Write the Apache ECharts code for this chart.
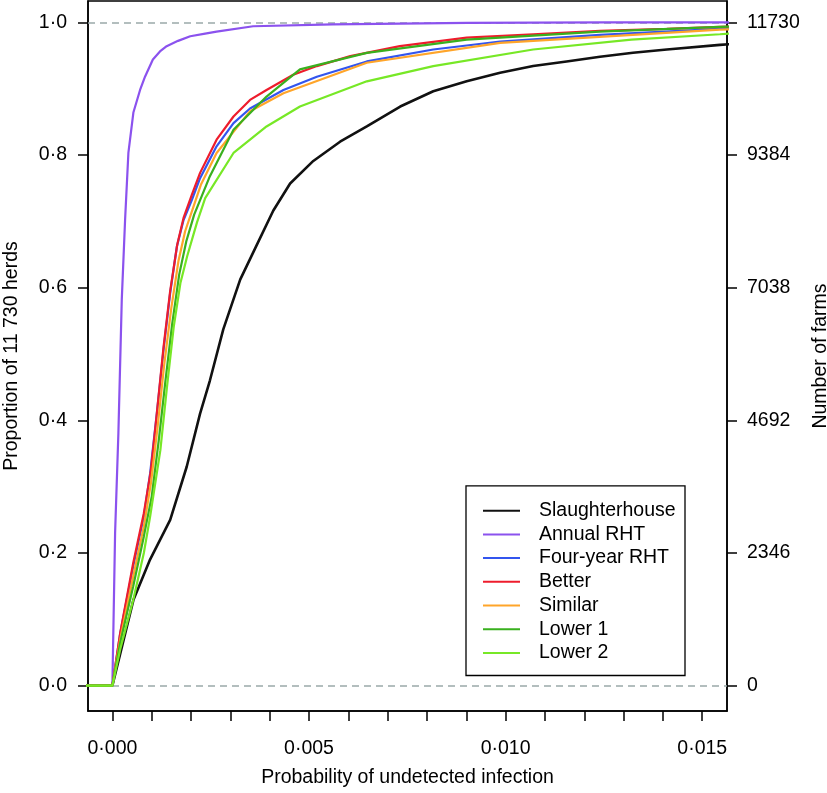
<!DOCTYPE html>
<html>
<head>
<meta charset="utf-8">
<script src="https://cdn.jsdelivr.net/npm/echarts@6/dist/echarts.min.js"></script>
<style>html,body{margin:0;padding:0;background:#fff;}#chart{width:827px;height:793px;}</style>
</head>
<body>
<div id="chart"></div>
<script>
// ---- data ----
const seriesNames = ['Slaughterhouse', 'Annual RHT', 'Four-year RHT', 'Better', 'Similar', 'Lower 1', 'Lower 2'];
const seriesColors = ['#111111', '#8b52ee', '#3355ee', '#ee1c2c', '#ffa52a', '#39b01e', '#77e826'];

const slaughterX = [-0.001, 0, 0.000534, 0.000958, 0.00147, 0.00189, 0.00223, 0.00248, 0.00282, 0.00325, 0.00367, 0.00409, 0.00452, 0.00511, 0.00579, 0.00647, 0.00732, 0.00816, 0.00901, 0.00986, 0.0107, 0.01155, 0.0124, 0.01324, 0.0141, 0.01545, 0.016];
const slaughterY = [0, 0, 0.129, 0.19, 0.25, 0.33, 0.41, 0.46, 0.537, 0.612, 0.664, 0.716, 0.757, 0.791, 0.82, 0.843, 0.873, 0.896, 0.911, 0.924, 0.934, 0.941, 0.948, 0.954, 0.959, 0.966, 0.968];

const annualX = [-0.001, 0, 0.000069, 0.000153, 0.000239, 0.000323, 0.000407, 0.000534, 0.000704, 0.00083, 0.00103, 0.00121, 0.00138, 0.00167, 0.00198, 0.00236, 0.00265, 0.00358, 0.00561, 0.00902, 0.0125, 0.016];
const annualY = [0, 0, 0.23, 0.381, 0.582, 0.702, 0.803, 0.864, 0.898, 0.918, 0.944, 0.956, 0.964, 0.972, 0.979, 0.983, 0.986, 0.994, 0.997, 0.999, 1.0, 1.0];

const fourYearX = [-0.001, 0, 0.0002, 0.00053, 0.0008, 0.00096, 0.00113, 0.0013, 0.00147, 0.00164, 0.00181, 0.00202, 0.00223, 0.00265, 0.00308, 0.0035, 0.00435, 0.0052, 0.00647, 0.00816, 0.00986, 0.0124, 0.01545, 0.016];
const fourYearY = [0, 0, 0.079, 0.18, 0.255, 0.32, 0.41, 0.506, 0.592, 0.662, 0.702, 0.732, 0.765, 0.813, 0.848, 0.87, 0.898, 0.918, 0.941, 0.959, 0.971, 0.981, 0.99, 0.991];

const betterX = [-0.001, 0, 0.0002, 0.00053, 0.0008, 0.00098, 0.00113, 0.0013, 0.00147, 0.00165, 0.00181, 0.00202, 0.00223, 0.00265, 0.00308, 0.0035, 0.00392, 0.0046, 0.0052, 0.00605, 0.00731, 0.00901, 0.0107, 0.0124, 0.0141, 0.01545, 0.016];
const betterY = [0, 0, 0.08, 0.185, 0.26, 0.325, 0.41, 0.51, 0.595, 0.665, 0.705, 0.74, 0.773, 0.823, 0.858, 0.883, 0.898, 0.921, 0.934, 0.949, 0.964, 0.977, 0.982, 0.987, 0.99, 0.993, 0.994];

const similarX = [-0.001, 0, 0.0002, 0.00053, 0.0008, 0.00098, 0.00115, 0.00132, 0.0015, 0.00168, 0.00185, 0.00205, 0.00225, 0.00265, 0.0035, 0.00435, 0.00647, 0.00986, 0.01545, 0.016];
const similarY = [0, 0, 0.07, 0.165, 0.24, 0.305, 0.39, 0.485, 0.57, 0.64, 0.685, 0.72, 0.755, 0.803, 0.866, 0.893, 0.939, 0.969, 0.989, 0.99];

const lower1X = [-0.001, 0, 0.0002, 0.00053, 0.0008, 0.001, 0.00118, 0.00135, 0.00152, 0.0017, 0.00188, 0.00208, 0.00248, 0.00308, 0.00392, 0.00477, 0.00647, 0.00901, 0.0124, 0.01545, 0.016];
const lower1Y = [0, 0, 0.065, 0.15, 0.225, 0.285, 0.37, 0.46, 0.545, 0.62, 0.67, 0.71, 0.768, 0.838, 0.888, 0.929, 0.954, 0.974, 0.986, 0.993, 0.994];

const lower2X = [-0.001, 0, 0.0002, 0.00053, 0.0008, 0.00096, 0.00122, 0.00139, 0.00156, 0.00173, 0.0019, 0.00215, 0.00236, 0.00308, 0.00392, 0.00477, 0.00647, 0.00816, 0.0107, 0.0132, 0.01545, 0.016];
const lower2Y = [0, 0, 0.055, 0.129, 0.2, 0.255, 0.355, 0.451, 0.541, 0.607, 0.647, 0.698, 0.735, 0.803, 0.843, 0.873, 0.911, 0.934, 0.959, 0.974, 0.982, 0.984];

const xTicks = [0, 0.001, 0.002, 0.003, 0.004, 0.005, 0.006, 0.007, 0.008, 0.009, 0.010, 0.011, 0.012, 0.013, 0.014, 0.015];
const xLabels = [0, 0.005, 0.010, 0.015];
const yTicks = [0, 0.2, 0.4, 0.6, 0.8, 1.0];
const farmLabels = ['0', '2346', '4692', '7038', '9384', '11730'];
const refLines = [0, 1];

// ---- chart ----
const allX = [slaughterX, annualX, fourYearX, betterX, similarX, lower1X, lower2X];
const allY = [slaughterY, annualY, fourYearY, betterY, similarY, lower1Y, lower2Y];
const FONT = 'Liberation Sans';
const FS = 19.5;
const dot = s => s.replace('.', '\u00B7');

const series = seriesNames.map((name, i) => {
  const s = {
    name: name,
    type: 'line',
    data: allX[i].map((x, k) => [x, allY[i][k]]),
    symbol: 'none',
    showSymbol: false,
    lineStyle: { color: seriesColors[i], width: i === 0 ? 2.6 : 2.2 },
    itemStyle: { color: seriesColors[i] },
    clip: true,
    z: 3 + i
  };
  if (i === 0) {
    s.markLine = {
      silent: true,
      symbol: 'none',
      label: { show: false },
      lineStyle: { type: [7, 5], color: '#9aa9a9', width: 1.5 },
      data: refLines.map(v => ({ yAxis: v })),
      z: 1
    };
  }
  return s;
});

const axisLineStyle = { color: '#000', width: 1.5 };
const chart = echarts.init(document.getElementById('chart'), null, { renderer: 'canvas' });
chart.setOption({
  animation: false,
  backgroundColor: '#fff',
  textStyle: { fontFamily: FONT, color: '#000' },
  grid: { left: 88, right: 100, top: 1, bottom: 82, containLabel: false, outerBoundsMode: 'none',
          show: true, borderColor: '#000', borderWidth: 1.5, backgroundColor: 'transparent' },
  xAxis: {
    type: 'value',
    min: -0.00062, max: 0.01563,
    name: 'Probability of undetected infection',
    nameLocation: 'middle', nameGap: 57,
    nameTextStyle: { fontFamily: FONT, fontSize: FS, color: '#000' },
    axisLine: { show: true, onZero: false, lineStyle: axisLineStyle },
    axisTick: { show: true, length: 10, customValues: xTicks, lineStyle: axisLineStyle },
    axisLabel: { customValues: xLabels, margin: 28, fontFamily: FONT, fontSize: FS, color: '#000', formatter: v => dot(v.toFixed(3)) },
    splitLine: { show: false }
  },
  yAxis: [{
    type: 'value',
    position: 'left',
    min: -0.0382, max: 1.0321,
    name: 'Proportion of 11 730 herds',
    nameLocation: 'middle', nameGap: 66, nameRotate: 90,
    nameTextStyle: { fontFamily: FONT, fontSize: FS, color: '#000' },
    axisLine: { show: true, onZero: false, lineStyle: axisLineStyle },
    axisTick: { show: true, length: 10, customValues: yTicks, lineStyle: axisLineStyle },
    axisLabel: { customValues: yTicks, margin: 21, fontFamily: FONT, fontSize: FS, color: '#000', formatter: v => dot(v.toFixed(1)) },
    splitLine: { show: false }
  }, {
    type: 'value',
    position: 'right',
    min: -0.0382, max: 1.0321,
    name: 'Number of farms',
    nameLocation: 'middle', nameGap: 75, nameRotate: 90,
    nameTextStyle: { fontFamily: FONT, fontSize: FS, color: '#000' },
    axisLine: { show: true, onZero: false, lineStyle: axisLineStyle },
    axisTick: { show: true, length: 10, customValues: yTicks, lineStyle: axisLineStyle },
    axisLabel: { customValues: yTicks, margin: 20, fontFamily: FONT, fontSize: FS, color: '#000',
      formatter: v => { const k = yTicks.findIndex(t => Math.abs(t - v) < 1e-9); return k >= 0 ? farmLabels[k] : ''; } },
    splitLine: { show: false }
  }],
  legend: {
    orient: 'vertical',
    left: 483, top: 500.7,
    padding: 0,
    icon: 'rect',
    itemWidth: 37, itemHeight: 2, itemGap: 3.7,
    data: seriesNames,
    textStyle: { fontFamily: FONT, fontSize: FS, color: '#000', lineHeight: 20, padding: [0, 0, 0, 14] },
    selectedMode: false
  },
  graphic: [{
    type: 'rect',
    shape: { x: 466, y: 485.8, width: 219, height: 189.7 },
    style: { fill: 'transparent', stroke: '#000', lineWidth: 1.3 },
    z: 50, silent: true
  }],
  series: series
});
</script>
</body>
</html>
